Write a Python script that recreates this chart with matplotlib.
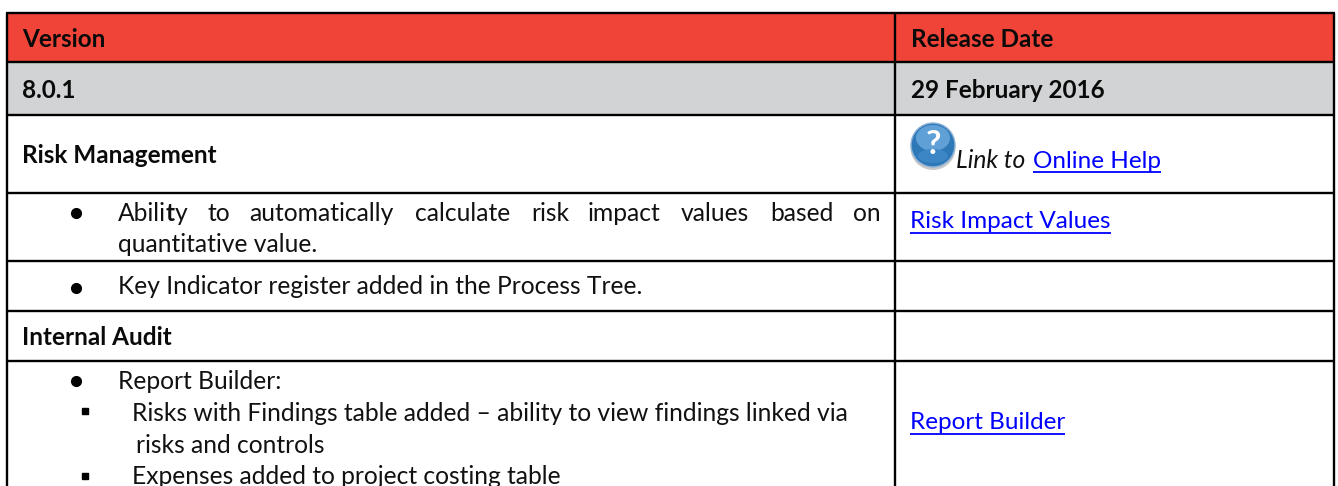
import matplotlib
matplotlib.use('Agg')
import matplotlib.pyplot as plt
from matplotlib.patches import Rectangle, Circle, Ellipse

plt.rcParams['font.family'] = ['Lato', 'DejaVu Sans']

W, H = 1338, 486
FS = 17.5        # bold rows and links
BODY_FS = 17.7   # body text
RED = '#F04438'
GREY = '#D1D3D4'
LINK = '#0000FF'

# Table geometry [px]
LEFT, DIVIDER, RIGHT = 7, 895, 1334
ROW_LINES = [13, 62, 115, 193, 261, 311, 361, 500]
ROW_FILLS = [RED, GREY, 'white', 'white', 'white', 'white', 'white']

# Text content
HEADERS = ['Version', 'Release Date']
VERSION = ['8.0.1', '29 February 2016']
SECTIONS = ['Risk Management', 'Internal Audit']
JUSTIFIED_WORDS = ['automatically', 'calculate', 'risk', 'impact', 'values', 'based', 'on']
JUSTIFIED_X = [249, 415, 531, 588, 681, 770, 853]
LINKS = ['Online Help', 'Risk Impact Values', 'Report Builder']

fig = plt.figure(figsize=(W / 100, H / 100), dpi=100)
ax = fig.add_axes([0, 0, 1, 1])
ax.set_xlim(0, W)
ax.set_ylim(H, 0)
ax.axis('off')


def put(x, y, s, size=BODY_FS, **kw):
    """Draw text on its baseline and return the x where it ends."""
    t = ax.text(x, y, s, fontsize=size, va='baseline', ha='left', color=kw.pop('color', '#111111'), **kw)
    box = t.get_window_extent(fig.canvas.get_renderer())
    return box.x1


def bold(x, y, s):
    return put(x, y, s, size=FS, fontweight='bold', color='#0a0a0a')


def link(x, y, s):
    end = put(x, y, s, size=FS, color=LINK)
    ax.plot([x, end], [y + 4.5, y + 4.5], color=LINK, lw=1.3, solid_capstyle='butt')


def dot(x, y):
    ax.plot([x], [y], 'o', color='black', ms=7)


def square(x, y):
    ax.plot([x], [y], 's', color='black', ms=5)


# Row backgrounds and rules
for top, bottom, fill in zip(ROW_LINES[:-1], ROW_LINES[1:], ROW_FILLS):
    ax.add_patch(Rectangle((LEFT, top), RIGHT - LEFT, bottom - top, fc=fill, ec='none'))
for y in ROW_LINES[:-1]:
    ax.plot([LEFT - 1, RIGHT + 1], [y, y], color='black', lw=1.7, solid_capstyle='butt')
for x in [LEFT, DIVIDER, RIGHT]:
    ax.plot([x, x], [ROW_LINES[0], H], color='black', lw=1.7, solid_capstyle='butt')

# Header rows
bold(22, 47, HEADERS[0])
bold(911, 47, HEADERS[1])
bold(22, 98, VERSION[0])
bold(911, 98, VERSION[1])

# Risk Management
bold(22, 163, SECTIONS[0])
ax.add_patch(Ellipse((933, 148), 45, 44, fc='#C9C9C9', ec='none'))
ax.add_patch(Circle((933, 145), 22, fc='#2F78B8', ec='#8FB4D6', lw=1))
ax.add_patch(Ellipse((933, 138), 34, 26, fc='#5FA0D6', ec='none'))
ax.add_patch(Ellipse((933, 156), 30, 14, fc='#3C86C6', ec='none'))
ax.text(933, 144, '?', fontsize=24, fontweight='bold', color='white', ha='center', va='center')
put(956, 168, 'Link to', fontstyle='italic')
link(1033, 168, LINKS[0])

# Ability row, justified words placed one by one
dot(76, 213)
end = put(118, 221, 'Abili')
end = put(end, 221, 't', fontweight='bold')
put(end, 221, 'y')
put(207, 221, 'to')
for word, x in zip(JUSTIFIED_WORDS, JUSTIFIED_X):
    put(x, 221, word)
put(118, 252, 'quantitative value.')
link(910, 228, LINKS[1])

# Key indicator row
dot(76, 288)
put(118, 294, 'Key Indicator register added in the Process Tree.')

# Internal Audit
bold(22, 345, SECTIONS[1])
dot(76, 381)
put(118, 389, 'Report Builder:')
square(85, 411)
put(132, 421, 'Risks with Findings table added \u2013 ability to view findings linked via')
put(136, 453, 'risks and controls')
square(85, 476)
put(132, 484, 'Expenses added to project costing table')
link(910, 429, LINKS[2])

fig.savefig('out.png', dpi=100)
